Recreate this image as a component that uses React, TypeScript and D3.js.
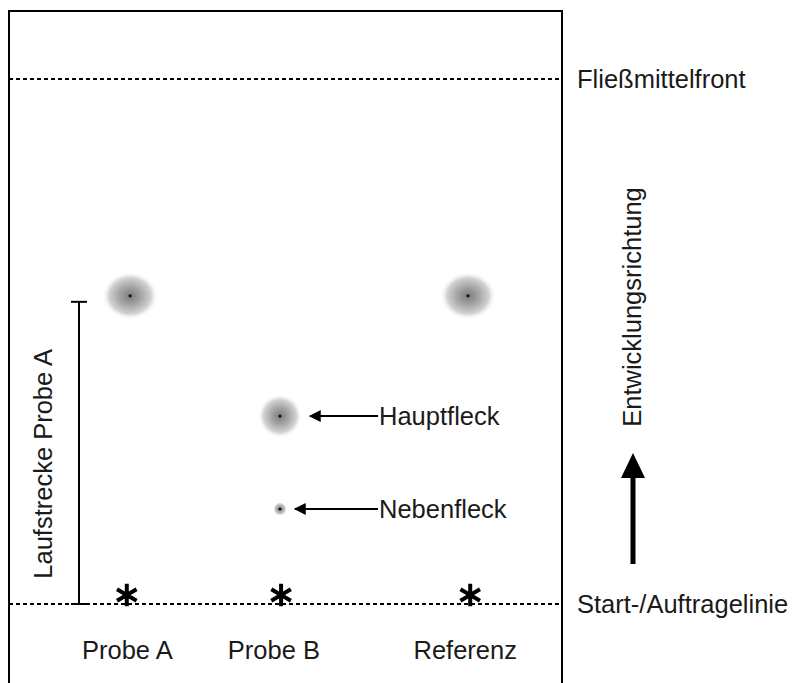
import React from "react";
import * as d3 from "d3";

const W = 792;
const H = 683;

// Lanes: horizontal position on the plate in percent of the plate width
const laneNames = ["Probe A", "Probe B", "Referenz"];
const lanePos = [21.9, 49.0, 83.0];
const starPos = [21.3, 49.2, 83.4];
const labelPos = [21.4, 47.9, 82.5];

// Spots: lane index, Rf value, radius x, radius y
const spotLane = [0, 1, 1, 2];
const spotRf = [0.587, 0.358, 0.181, 0.587];
const spotRx = [28, 22, 7, 28];
const spotRy = [24, 22, 7, 24];

const annotNames = ["Hauptfleck", "Nebenfleck"];
const annotSpot = [1, 2];

const lineLabels = ["Fließmittelfront", "Start-/Auftragelinie"];
const lineRf = [1, 0];

const FONT = "'Liberation Sans', Arial, Helvetica, sans-serif";

export default function App() {
  const plateL = 9, plateR = 562, plateT = 11;
  const x = d3.scaleLinear().domain([0, 100]).range([plateL, plateR]);
  const y = d3.scaleLinear().domain([0, 1]).range([604, 79]);

  const fs = 25.5;
  const star = d3.symbol().type(d3.symbolAsterisk).size(360)() || "";

  return (
    <svg width={W} height={H} style={{ display: "block", position: "absolute", left: 0, top: 0 }}>
      <defs>
        <radialGradient id="spotGrad" cx="50%" cy="50%" r="50%">
          <stop offset="0%" stopColor="#7c7c7c" />
          <stop offset="40%" stopColor="#a6a6a6" />
          <stop offset="75%" stopColor="#d2d2d2" />
          <stop offset="100%" stopColor="#ffffff" stopOpacity="0" />
        </radialGradient>
        <marker id="ah" viewBox="0 0 10 10" refX="9" refY="5" markerWidth="6" markerHeight="6" orient="auto" markerUnits="strokeWidth">
          <path d="M0,0 L10,5 L0,10 z" fill="#000" />
        </marker>
      </defs>
      <rect x={plateL} y={plateT} width={plateR - plateL} height={H + 20} fill="white" stroke="#000" strokeWidth={2} />

      {lineRf.map((rf, i) => (
        <g key={"l" + i}>
          <line x1={plateL} x2={plateR} y1={y(rf)} y2={y(rf)} stroke="#000" strokeWidth={1.8} strokeDasharray="4,3" />
          <text x={plateR + 15} y={y(rf)} dy="0.36em" fontFamily={FONT} fontSize={fs} fill="#1a1a1a">{lineLabels[i]}</text>
        </g>
      ))}

      {spotRf.map((rf, i) => (
        <g key={"s" + i}>
          <ellipse cx={x(lanePos[spotLane[i]])} cy={y(rf)} rx={spotRx[i]} ry={spotRy[i]} fill="url(#spotGrad)" />
          <circle cx={x(lanePos[spotLane[i]])} cy={y(rf)} r={1.6} fill="#111" />
        </g>
      ))}

      {starPos.map((p, i) => (
        <path key={"st" + i} d={star} transform={`translate(${x(p)},${y(0) - 9})`} fill="none" stroke="#000" strokeWidth={4} />
      ))}

      {laneNames.map((n, i) => (
        <text key={"ln" + i} x={x(labelPos[i])} y={y(0) + 55} textAnchor="middle" fontFamily={FONT} fontSize={fs} fill="#1a1a1a">{n}</text>
      ))}

      {annotSpot.map((si, i) => {
        const sy = y(spotRf[si]);
        const sx = x(lanePos[spotLane[si]]);
        const tx = 378;
        return (
          <g key={"a" + i}>
            <line x1={tx} x2={sx + spotRx[si] + 8} y1={sy} y2={sy} stroke="#000" strokeWidth={2} markerEnd="url(#ah)" />
            <text x={tx + 1} y={sy} dy="0.36em" fontFamily={FONT} fontSize={fs} fill="#1a1a1a">{annotNames[i]}</text>
          </g>
        );
      })}

      {/* Laufstrecke bracket */}
      <g>
        <line x1={79} x2={79} y1={y(spotRf[0]) + 6} y2={y(0)} stroke="#000" strokeWidth={2} />
        <line x1={71} x2={87} y1={y(spotRf[0]) + 6} y2={y(spotRf[0]) + 6} stroke="#000" strokeWidth={2} />
        <line x1={71} x2={87} y1={y(0)} y2={y(0)} stroke="#000" strokeWidth={2} />
        <text transform={`translate(52,${(y(spotRf[0]) + y(0)) / 2 + 14}) rotate(-90)`} textAnchor="middle" fontFamily={FONT} fontSize={fs} fill="#1a1a1a">Laufstrecke Probe A</text>
      </g>

      {/* Entwicklungsrichtung */}
      <g>
        <text transform={`translate(641,307) rotate(-90)`} textAnchor="middle" fontFamily={FONT} fontSize={fs} fill="#1a1a1a">Entwicklungsrichtung</text>
        <line x1={633} x2={633} y1={564} y2={475} stroke="#000" strokeWidth={5} />
        <path d="M633,453 L645,478 L621,478 Z" fill="#000" />
      </g>
    </svg>
  );
}
